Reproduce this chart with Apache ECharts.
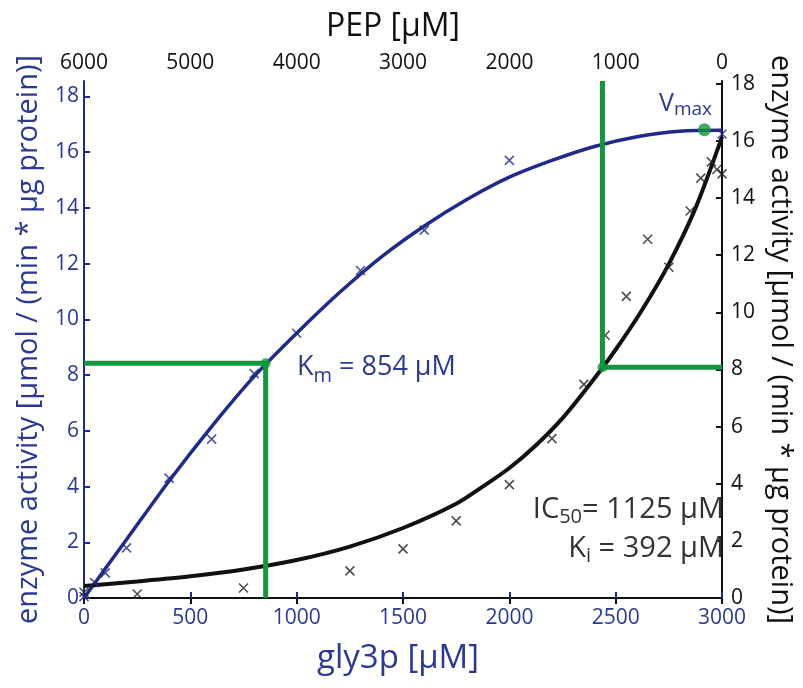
<!DOCTYPE html>
<html>
<head>
<meta charset="utf-8">
<script src="https://cdn.jsdelivr.net/npm/echarts@6/dist/echarts.min.js"></script>
<style>
html,body{margin:0;padding:0;background:#fff;}
#chart{width:803px;height:688px;}
</style>
</head>
<body>
<div id="chart"></div>
<script>
// ---- data ----
// bottom axis: gly3p [µM], left axis: activity (blue)
var gly3pTicks = [0, 500, 1000, 1500, 2000, 2500, 3000];
var pepTicks = [0, 1000, 2000, 3000, 4000, 5000, 6000];
var leftTicks = [0, 2, 4, 6, 8, 10, 12, 14, 16, 18];
var rightTicks = [0, 2, 4, 6, 8, 10, 12, 14, 16, 18];

var blueX = [0, 50, 100, 200, 400, 600, 800, 1000, 1300, 1600, 2000, 3000];
var blueY = [0.05, 0.55, 0.9, 1.8, 4.3, 5.7, 8.05, 9.5, 11.75, 13.2, 15.7, 16.65];

var blueFitX = [0, 200, 400, 600, 800, 1000, 1200, 1400, 1600, 1800, 2000, 2200, 2400, 2600, 2800, 3000];
var blueFitY = [0, 2.1, 4.2, 6.15, 7.95, 9.5, 10.95, 12.25, 13.35, 14.3, 15.1, 15.7, 16.2, 16.55, 16.75, 16.78];

// top axis: PEP [µM], right axis: activity (black)
var blackX = [6000, 5500, 4500, 3500, 3000, 2500, 2000, 1600, 1300, 1100, 900, 700, 500, 300, 200, 100, 50, 0];
var blackY = [0.2, 0.14, 0.35, 0.95, 1.72, 2.7, 3.97, 5.58, 7.48, 9.2, 10.56, 12.56, 11.58, 13.55, 14.7, 15.27, 15.0, 14.85];

var blackFitX = [6000, 5500, 5000, 4500, 4000, 3500, 3000, 2500, 2250, 2000, 1750, 1500, 1250, 1000, 750, 500, 250, 0];
var blackFitY = [0.42, 0.58, 0.76, 1.0, 1.33, 1.8, 2.45, 3.3, 3.9, 4.55, 5.35, 6.3, 7.45, 8.7, 10.1, 11.7, 13.65, 16.15];

var kmValue = 854, kmActivity = 8.42;
var ic50Value = 1125, ic50Activity = 8.08;
var vmaxX = 2917, vmaxY = 16.8;
var leftMax = 18.55, rightMax = 18.1;

function zip(a, b) { return a.map(function (v, i) { return [v, b[i]]; }); }
function plain(v) { return String(v); }

var BLUE = '#1f2b88';
var BLUE_T = '#2b3990';
var GREEN = '#13963d';
var BLACK = '#111111';
var FONT = 'Open Sans';
var CROSS = 'path://M0,0L10,10M10,0L0,10';

var chart = echarts.init(document.getElementById('chart'), null, {renderer: 'canvas'});

var option = {
  backgroundColor: '#ffffff',
  animation: false,
  textStyle: {fontFamily: FONT},
  grid: {left: 84, right: 71, top: 81, bottom: 90},
  xAxis: [
    {
      type: 'value', position: 'bottom', min: 0, max: 3000,
      name: 'gly3p [µM]', nameLocation: 'middle', nameGap: 44,
      nameTextStyle: {color: BLUE_T, fontSize: 33, fontFamily: FONT, padding: [0, 10, 0, 0]},
      axisLine: {show: true, lineStyle: {color: BLUE, width: 2}},
      axisTick: {show: true, inside: true, length: 6, lineStyle: {color: BLUE, width: 2}, customValues: gly3pTicks},
      axisLabel: {color: BLUE_T, fontSize: 21, margin: 10, fontFamily: FONT, customValues: gly3pTicks, formatter: plain},
      splitLine: {show: false}
    },
    {
      type: 'value', position: 'top', min: 0, max: 6000, inverse: true,
      name: 'PEP [µM]', nameLocation: 'middle', nameGap: 38,
      nameTextStyle: {color: BLACK, fontSize: 32, fontFamily: FONT, padding: [0, 20, 0, 0]},
      axisLine: {show: true, lineStyle: {color: BLACK, width: 2}},
      axisTick: {show: true, inside: true, length: 6, lineStyle: {color: BLACK, width: 2}, customValues: pepTicks},
      axisLabel: {color: BLACK, fontSize: 21, margin: 7, fontFamily: FONT, customValues: pepTicks, formatter: plain},
      splitLine: {show: false}
    }
  ],
  yAxis: [
    {
      type: 'value', position: 'left', min: 0, max: leftMax,
      name: 'enzyme activity [µmol / (min * µg protein)]', nameLocation: 'middle', nameGap: 41,
      nameTextStyle: {color: BLUE_T, fontSize: 29, fontFamily: FONT},
      axisLine: {show: true, lineStyle: {color: BLUE, width: 2}},
      axisTick: {show: true, inside: true, length: 6, lineStyle: {color: BLUE, width: 2}, customValues: leftTicks},
      axisLabel: {color: BLUE_T, fontSize: 21, margin: 5, fontFamily: FONT, customValues: leftTicks, formatter: plain},
      splitLine: {show: false}
    },
    {
      type: 'value', position: 'right', min: 0, max: rightMax,
      name: 'enzyme activity [µmol / (min * µg protein)]', nameLocation: 'middle', nameGap: 40, nameRotate: -90,
      nameTextStyle: {color: BLACK, fontSize: 29, fontFamily: FONT},
      axisLine: {show: true, lineStyle: {color: BLACK, width: 2}},
      axisTick: {show: true, inside: true, length: 6, lineStyle: {color: BLACK, width: 2}, customValues: rightTicks},
      axisLabel: {color: BLACK, fontSize: 21, margin: 9, fontFamily: FONT, customValues: rightTicks, formatter: plain},
      splitLine: {show: false}
    }
  ],
  series: [
    {
      type: 'line', name: 'blue fit', xAxisIndex: 0, yAxisIndex: 0,
      data: zip(blueFitX, blueFitY), smooth: 0.3, showSymbol: false, silent: true,
      lineStyle: {color: BLUE, width: 3.5}, z: 3
    },
    {
      type: 'line', name: 'black fit', xAxisIndex: 1, yAxisIndex: 1,
      data: zip(blackFitX, blackFitY), smooth: 0.3, showSymbol: false, silent: true,
      lineStyle: {color: BLACK, width: 4}, z: 3
    },
    {
      type: 'scatter', name: 'blue data', xAxisIndex: 0, yAxisIndex: 0,
      data: zip(blueX, blueY), symbol: CROSS, symbolSize: 9,
      itemStyle: {color: 'transparent', borderColor: BLUE, borderWidth: 1.6}, z: 4
    },
    {
      type: 'scatter', name: 'black data', xAxisIndex: 1, yAxisIndex: 1,
      data: zip(blackX, blackY), symbol: CROSS, symbolSize: 9,
      itemStyle: {color: 'transparent', borderColor: '#222', borderWidth: 1.6}, z: 4
    },
    {
      type: 'line', name: 'Km', xAxisIndex: 0, yAxisIndex: 0,
      data: [[0, kmActivity], [kmValue, kmActivity], [kmValue, 0]],
      showSymbol: false, silent: true, lineStyle: {color: GREEN, width: 5}, z: 5
    },
    {
      type: 'line', name: 'IC50', xAxisIndex: 1, yAxisIndex: 1,
      data: [[ic50Value, rightMax], [ic50Value, ic50Activity], [0, ic50Activity]],
      showSymbol: false, silent: true, lineStyle: {color: GREEN, width: 5}, z: 5
    },
    {
      type: 'scatter', name: 'Km point', xAxisIndex: 0, yAxisIndex: 0,
      data: [[kmValue, kmActivity], [vmaxX, vmaxY]], symbol: 'circle',
      symbolSize: function (v, p) { return p.dataIndex === 1 ? 13 : 10; },
      itemStyle: {color: GREEN}, z: 6
    },
    {
      type: 'scatter', name: 'IC50 point', xAxisIndex: 1, yAxisIndex: 1,
      data: [[ic50Value, ic50Activity]], symbol: 'circle', symbolSize: 10,
      itemStyle: {color: GREEN}, z: 6
    }
  ],
  graphic: [
    {
      type: 'text', x: 297, y: 371, z: 10,
      style: {
        text: '{a|K}{s|m}{a| = 854 µM}', verticalAlign: 'middle', align: 'left',
        rich: {
          a: {fontSize: 27, fontFamily: FONT, fill: BLUE_T, lineHeight: 34, verticalAlign: 'top'},
          s: {fontSize: 20, fontFamily: FONT, fill: BLUE_T, lineHeight: 34, verticalAlign: 'top', padding: [12, 0, 0, 0]}
        }
      }
    },
    {
      type: 'text', x: 659, y: 106, z: 10,
      style: {
        text: '{a|V}{s|max}', verticalAlign: 'middle', align: 'left',
        rich: {
          a: {fontSize: 25, fontFamily: FONT, fill: BLUE_T, lineHeight: 30, verticalAlign: 'top'},
          s: {fontSize: 19, fontFamily: FONT, fill: BLUE_T, lineHeight: 30, verticalAlign: 'top', padding: [9, 0, 0, 0]}
        }
      }
    },
    {
      type: 'text', x: 724, y: 512, z: 10,
      style: {
        text: '{a|IC}{s|50}{a|= 1125 µM}', verticalAlign: 'middle', align: 'right',
        rich: {
          a: {fontSize: 29, fontFamily: FONT, fill: '#333', lineHeight: 34, verticalAlign: 'top'},
          s: {fontSize: 20, fontFamily: FONT, fill: '#333', lineHeight: 34, verticalAlign: 'top', padding: [12, 0, 0, 0]}
        }
      }
    },
    {
      type: 'text', x: 724, y: 551, z: 10,
      style: {
        text: '{a|K}{s|i}{a| = 392 µM}', verticalAlign: 'middle', align: 'right',
        rich: {
          a: {fontSize: 29, fontFamily: FONT, fill: '#333', lineHeight: 34, verticalAlign: 'top'},
          s: {fontSize: 20, fontFamily: FONT, fill: '#333', lineHeight: 34, verticalAlign: 'top', padding: [12, 0, 0, 0]}
        }
      }
    }
  ]
};
chart.setOption(option);
</script>
</body>
</html>
